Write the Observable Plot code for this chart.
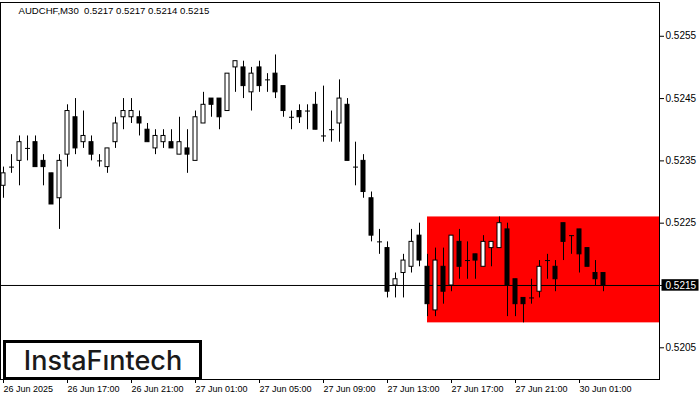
<!DOCTYPE html>
<html><head><meta charset="utf-8">
<script src="https://cdn.jsdelivr.net/npm/d3@7"></script>
<script src="https://cdn.jsdelivr.net/npm/@observablehq/plot@0.6"></script>
<style>body{margin:0;background:#fff;} svg{display:block;}</style>
</head><body><div id="chart"></div>
<script>
const symbol = "AUDCHF,M30";
const lastBar = [0.5217, 0.5217, 0.5214, 0.5215];

const open = [0.5231,0.5234,0.5235,0.5237,0.5238,0.5235,0.5233,0.5229,0.5236,0.5242,
0.5238,0.5238,0.5235,0.5234,0.5238,0.5242,0.5242,0.5242,0.5240,0.5237,
0.5238,0.5238,0.5236,0.5237,0.5235,0.5241,0.5245,0.5245,0.5243,0.5250,
0.5250,0.5246,0.5250,0.5248,0.5249,0.5247,0.5242,0.5243,0.5243,0.5244,
0.5239,0.5240,0.5241,0.5244,0.5234,0.5235,0.5229,0.5222,0.5221,0.5215,
0.5217,0.5218,0.5223,0.5218,0.5211,0.5218,0.5215,0.5222,0.5219,0.5220,
0.5218,0.5221,0.5221,0.5224,0.5216,0.5213,0.5213,0.5214,0.5219,0.5218,
0.5225,0.5223,0.5224,0.5221,0.5217,0.5217];

const high = [0.5234,0.5236,0.5239,0.5239,0.5239,0.5236,0.5233,0.5236,0.5244,0.5245,
0.5243,0.5239,0.5236,0.5237,0.5242,0.5245,0.5245,0.5243,0.5241,0.5240,
0.5240,0.5240,0.5242,0.5240,0.5243,0.5246,0.5245,0.5245,0.5249,0.5251,
0.5251,0.5250,0.5251,0.5249,0.5252,0.5247,0.5243,0.5244,0.5244,0.5246,
0.5247,0.5243,0.5248,0.5245,0.5238,0.5236,0.5230,0.5224,0.5222,0.5217,
0.5220,0.5224,0.5225,0.5220,0.5221,0.5221,0.5223,0.5224,0.5222,0.5220,
0.5223,0.5222,0.5226,0.5225,0.5216,0.5213,0.5216,0.5219,0.5220,0.5219,
0.5225,0.5223,0.5224,0.5221,0.5219,0.5217];

const low = [0.5229,0.5233,0.5231,0.5235,0.5234,0.5231,0.5228,0.5224,0.5234,0.5236,
0.5237,0.5235,0.5234,0.5233,0.5237,0.5240,0.5241,0.5239,0.5238,0.5236,
0.5237,0.5237,0.5236,0.5233,0.5235,0.5241,0.5242,0.5240,0.5243,0.5246,
0.5245,0.5243,0.5246,0.5246,0.5245,0.5242,0.5240,0.5241,0.5240,0.5240,
0.5238,0.5238,0.5238,0.5235,0.5231,0.5229,0.5222,0.5220,0.5213,0.5213,
0.5213,0.5217,0.5218,0.5210,0.5210,0.5212,0.5214,0.5216,0.5216,0.5216,
0.5218,0.5218,0.5221,0.5210,0.5210,0.5209,0.5212,0.5213,0.5216,0.5214,
0.5219,0.5220,0.5217,0.5218,0.5215,0.5214];

const close = [0.5233,0.5234,0.5238,0.5237,0.5234,0.5234,0.5228,0.5235,0.5243,0.5237,
0.5239,0.5236,0.5235,0.5237,0.5241,0.5243,0.5243,0.5241,0.5238,0.5239,
0.5239,0.5237,0.5238,0.5236,0.5242,0.5244,0.5244,0.5242,0.5249,0.5251,
0.5247,0.5249,0.5247,0.5248,0.5246,0.5243,0.5242,0.5242,0.5243,0.5240,
0.5239,0.5240,0.5245,0.5235,0.5234,0.5230,0.5223,0.5222,0.5214,0.5216,
0.5219,0.5222,0.5219,0.5212,0.5219,0.5214,0.5223,0.5218,0.5219,0.5219,
0.5222,0.5222,0.5225,0.5215,0.5212,0.5212,0.5213,0.5218,0.5219,0.5216,
0.5222,0.5223,0.5220,0.5218,0.5216,0.5215];

const priceTicks = [0.5205, 0.5215, 0.5225, 0.5235, 0.5245, 0.5255];
const timeTickBars = [0, 8, 16, 24, 32, 40, 48, 56, 64, 72];
const timeTickLabels = ["26 Jun 2025","26 Jun 17:00","26 Jun 21:00","27 Jun 01:00","27 Jun 05:00",
  "27 Jun 09:00","27 Jun 13:00","27 Jun 17:00","27 Jun 21:00","30 Jun 01:00"];
const currentPrice = 0.5215;
const zoneStartBar = 53;
const zoneTop = 0.5226;
const zoneBottom = 0.5209;
const brand = "InstaF\u0131ntech";

const candles = open.map((o, i) => ({i, o, h: high[i], l: low[i], c: close[i]}));
const bulls = candles.filter(d => d.c > d.o);
const bears = candles.filter(d => d.c < d.o);
const dojis = candles.filter(d => d.c === d.o);
const xDomain = [-0.375, 82];
const yDomain = [0.519991, 0.526042];
const title = symbol + "\u00a0\u00a0" + lastBar.map(v => v.toFixed(4)).join(" ");

const chart = Plot.plot({
  width: 700, height: 400,
  marginLeft: 0, marginRight: 41, marginTop: 2, marginBottom: 21,
  x: {domain: xDomain},
  y: {domain: yDomain},
  style: {fontFamily: "'Liberation Sans', Arial, sans-serif", background: "#fff", color: "#000", fontSize: "10px"},
  marks: [
    Plot.rect([{x1: zoneStartBar, x2: xDomain[1], y1: zoneBottom, y2: zoneTop}], {x1: "x1", x2: "x2", y1: "y1", y2: "y2", fill: "#ff0000"}),
    Plot.ruleY([currentPrice], {stroke: "black"}),
    Plot.ruleX(candles, {x: "i", y1: "l", y2: "h", stroke: "black", clip: true}),
    Plot.rect(bulls, {x1: d => d.i - 0.25, x2: d => d.i + 0.25, y1: "o", y2: "c", fill: "white", stroke: "black", clip: true}),
    Plot.rect(bears, {x1: d => d.i - 0.25, x2: d => d.i + 0.25, y1: "c", y2: "o", fill: "black", stroke: "black", clip: true}),
    Plot.ruleY(dojis, {y: "o", x1: d => d.i - 0.25, x2: d => d.i + 0.375, stroke: "black", clip: true}),
    Plot.frame({stroke: "black"}),
    Plot.axisY(priceTicks, {anchor: "right", tickSize: 4, tickPadding: 2, tickFormat: d => d.toFixed(4), fontSize: 10, label: null}),
    Plot.axisX(timeTickBars, {anchor: "bottom", tickSize: 4, tickPadding: 2,
      tickFormat: d => timeTickLabels[timeTickBars.indexOf(d)], textAnchor: "start", fontSize: 9, label: null}),
    Plot.text([title], {frameAnchor: "top-left", dx: 18, dy: 5, lineAnchor: "top", textAnchor: "start", fontSize: 9.6, fill: "black"})
  ]
});
document.getElementById("chart").appendChild(chart);

// highlight current price label
const svg = d3.select(chart);
svg.selectAll("text").filter(function() { return this.textContent === currentPrice.toFixed(4); }).each(function() {
  const bb = this.getBBox();
  d3.select(this.parentNode).insert("rect", () => this)
    .attr("x", bb.x - 4).attr("y", bb.y - 0.5).attr("width", bb.width + 6).attr("height", bb.height + 0.5)
    .attr("transform", this.getAttribute("transform"))
    .attr("fill", "black");
  d3.select(this).attr("fill", "white");
});

// brand box
const g = svg.append("g");
g.append("rect").attr("x", 4.5).attr("y", 341.5).attr("width", 196).attr("height", 37)
  .attr("fill", "white").attr("stroke", "black").attr("stroke-width", 3);
g.append("text").attr("x", 103).attr("y", 369.5).attr("text-anchor", "middle")
  .attr("font-family", "Inter, 'Noto Sans', sans-serif").attr("font-weight", 500)
  .attr("font-size", 27).attr("fill", "#1a1a1a").text(brand);
</script>
</body></html>
